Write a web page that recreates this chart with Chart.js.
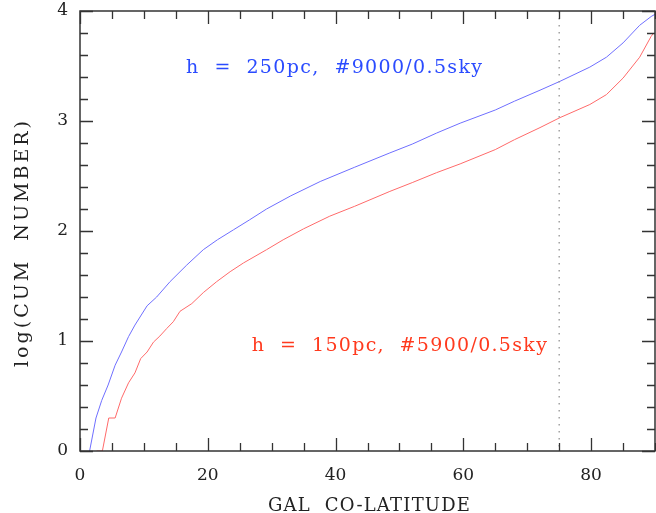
<!DOCTYPE html>
<html>
<head>
<meta charset="utf-8">
<style>
  * { margin: 0; padding: 0; box-sizing: border-box; }
  body { width: 656px; height: 513px; background: #fff; overflow: hidden; }
  .chartBox { width: 656px; height: 513px; }
</style>
</head>
<body>
<div class="chartBox"><canvas id="myChart"></canvas></div>

<script src="https://cdn.jsdelivr.net/npm/chart.js/dist/chart.umd.min.js"></script>
<script>
// setup - values
const xMin = 0, xMax = 90, yMin = 0, yMax = 4;
const xMajorTicks = [0, 20, 40, 60, 80];
const yMajorTicks = [0, 1, 2, 3, 4];
const cutLatitude = 75;

const blueX = [1.5, 2.5, 3.4, 4.4, 5.5, 6.5, 7.6, 8.6, 10.5, 12, 14.1, 16.7, 19.3, 21.5, 24, 26.5, 29.2, 33, 37.6, 43, 48.5, 52, 55.8, 59.5, 65, 68, 72, 75.1, 79.8, 82.4, 85, 87.6, 89.4, 90];
const blueY = [0, 0.30, 0.46, 0.60, 0.78, 0.90, 1.04, 1.145, 1.32, 1.40, 1.54, 1.69, 1.83, 1.92, 2.01, 2.10, 2.20, 2.32, 2.45, 2.58, 2.71, 2.79, 2.89, 2.98, 3.10, 3.18, 3.28, 3.36, 3.49, 3.58, 3.71, 3.87, 3.95, 3.97];

const redX = [2.6, 3.5, 4.5, 5.5, 6.5, 7.6, 8.6, 9.5, 10.5, 11.5, 12.5, 13.6, 14.6, 15.65, 17.5, 19.3, 21.4, 23.5, 25.6, 29.2, 31.8, 35, 39.1, 43, 48.5, 52, 55.8, 59.5, 65, 68, 72, 75.1, 79.8, 82.4, 85, 87.6, 89.4, 89.8];
const redY = [0, 0, 0.30, 0.30, 0.48, 0.62, 0.71, 0.84, 0.90, 0.99, 1.045, 1.115, 1.175, 1.27, 1.34, 1.44, 1.54, 1.63, 1.71, 1.83, 1.92, 2.02, 2.135, 2.225, 2.36, 2.44, 2.53, 2.61, 2.74, 2.83, 2.94, 3.03, 3.15, 3.24, 3.39, 3.58, 3.77, 3.80];

const blueLabel = 'h  =  250pc,  #9000/0.5sky';
const redLabel = 'h  =  150pc,  #5900/0.5sky';

const FONT = '"DejaVu Serif", serif';

const pts = (xs, ys) => xs.map((x, i) => ({ x: x, y: ys[i] }));

// frame, inward ticks, dotted line and the text
const framePlugin = {
  id: 'frame',
  afterDraw(chart) {
    const ctx = chart.ctx;
    const xs = chart.scales.x, ys = chart.scales.y;
    const a = chart.chartArea;
    ctx.save();

    // dotted cut line
    ctx.strokeStyle = '#8a8a8a';
    ctx.lineWidth = 1.2;
    ctx.setLineDash([1.5, 5.5]);
    const cx = xs.getPixelForValue(cutLatitude);
    ctx.beginPath();
    ctx.moveTo(cx, a.top);
    ctx.lineTo(cx, a.bottom);
    ctx.stroke();
    ctx.setLineDash([]);

    // box
    ctx.strokeStyle = '#333';
    ctx.lineWidth = 1.5;
    ctx.strokeRect(a.left, a.top, a.right - a.left, a.bottom - a.top);

    ctx.lineWidth = 1.3;
    ctx.beginPath();
    for (let v = xMin; v <= xMax; v += 5) {
      const p = Math.round(xs.getPixelForValue(v)) + 0.5;
      const len = v % 20 === 0 ? 13 : 8;
      ctx.moveTo(p, a.bottom); ctx.lineTo(p, a.bottom - len);
      ctx.moveTo(p, a.top); ctx.lineTo(p, a.top + len);
    }
    for (let k = 0; k <= 20; k++) {
      const v = k * 0.2;
      const p = Math.round(ys.getPixelForValue(v)) + 0.5;
      const len = k % 5 === 0 ? 13 : 8;
      ctx.moveTo(a.left, p); ctx.lineTo(a.left + len, p);
      ctx.moveTo(a.right, p); ctx.lineTo(a.right - len, p);
    }
    ctx.stroke();

    // labels inside the plot
    const fitText = (txt, x, y, w, color, size) => {
      ctx.font = size + 'px ' + FONT;
      ctx.letterSpacing = '0px';
      const m = ctx.measureText(txt).width;
      const sp = (w - m) / (txt.length - 1);
      ctx.letterSpacing = sp + 'px';
      ctx.fillStyle = color;
      ctx.textAlign = 'left';
      ctx.textBaseline = 'alphabetic';
      ctx.fillText(txt, x, y);
      ctx.letterSpacing = '0px';
    };
    fitText(blueLabel, xs.getPixelForValue(16.6), ys.getPixelForValue(3.436), 296, '#2a4bff', 19);
    fitText(redLabel, xs.getPixelForValue(26.9), ys.getPixelForValue(0.912), 295, '#ff3a1e', 19);

    // axis titles
    ctx.fillStyle = '#222';
    ctx.textAlign = 'left';
    ctx.textBaseline = 'alphabetic';
    const xt = 'GAL  CO-LATITUDE';
    ctx.font = '18px ' + FONT;
    ctx.letterSpacing = '0px';
    let m = ctx.measureText(xt).width;
    ctx.letterSpacing = ((202 - m) / (xt.length - 1)) + 'px';
    ctx.fillText(xt, 268, 511);

    const yt = 'log(CUM  NUMBER)';
    ctx.font = '19px ' + FONT;
    ctx.letterSpacing = '0px';
    m = ctx.measureText(yt).width;
    ctx.letterSpacing = ((246 - m) / (yt.length - 1)) + 'px';
    ctx.translate(28, 367);
    ctx.rotate(-Math.PI / 2);
    ctx.fillText(yt, 0, 0);
    ctx.restore();
  }
};

const data = {
  datasets: [
    { label: 'h = 250pc', data: pts(blueX, blueY), borderColor: '#6f6fff', borderWidth: 1, pointRadius: 0, tension: 0 },
    { label: 'h = 150pc', data: pts(redX, redY), borderColor: '#ff6a6a', borderWidth: 1, pointRadius: 0, tension: 0 }
  ]
};

const config = {
  type: 'line',
  data,
  options: {
    responsive: false,
    animation: false,
    layout: { padding: { top: 11, right: 1, left: 0, bottom: 0 } },
    plugins: { legend: { display: false }, tooltip: { enabled: false } },
    scales: {
      x: {
        type: 'linear', min: xMin, max: xMax,
        grid: { display: false, drawTicks: false },
        border: { display: false },
        afterFit: s => { s.height = 62; s.paddingLeft = 0; s.paddingRight = 0; },
        ticks: {
          stepSize: 20, padding: 14, color: '#222', maxRotation: 0,
          font: { family: FONT, size: 17 },
          callback: v => xMajorTicks.includes(v) ? String(v) : ''
        }
      },
      y: {
        type: 'linear', min: yMin, max: yMax,
        grid: { display: false, drawTicks: false },
        border: { display: false },
        afterFit: s => { s.width = 80; s.paddingTop = 0; s.paddingBottom = 0; },
        ticks: {
          stepSize: 1, padding: 12, color: '#222',
          font: { family: FONT, size: 17 },
          callback: v => yMajorTicks.includes(v) ? String(v) : ''
        }
      }
    }
  },
  plugins: [framePlugin]
};

const canvas = document.getElementById('myChart');
canvas.width = 656;
canvas.height = 513;
const myChart = new Chart(canvas, config);
</script>
</body>
</html>
